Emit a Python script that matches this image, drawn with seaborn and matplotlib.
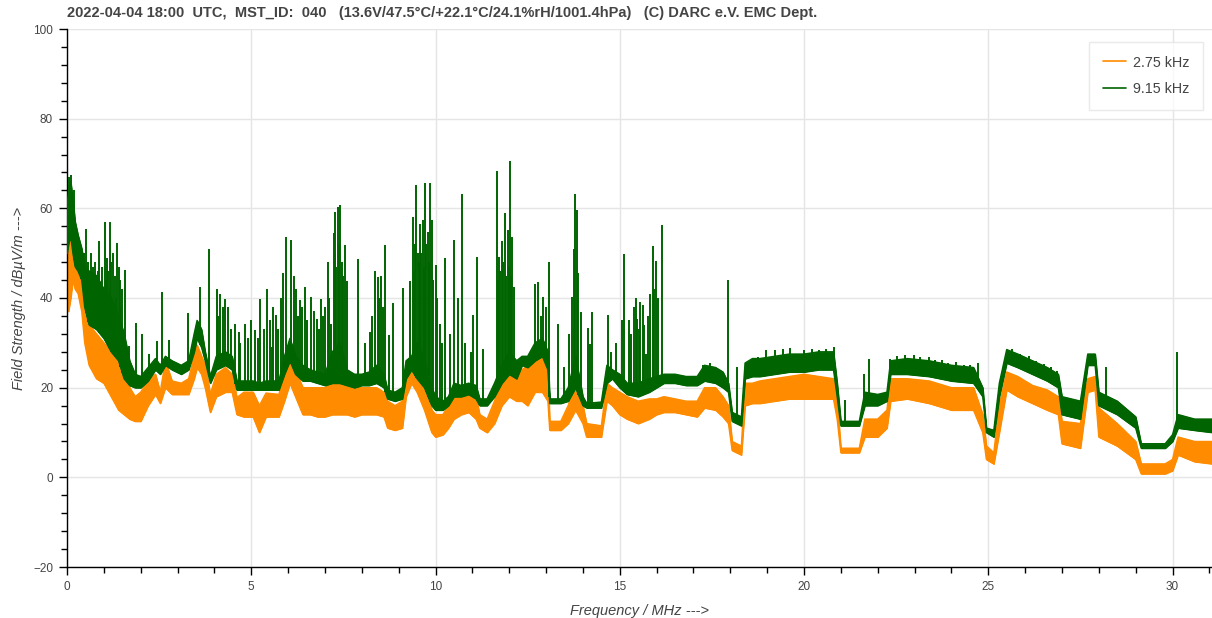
import numpy as np
import pandas as pd
import seaborn as sns
import matplotlib
matplotlib.use("Agg")
import matplotlib.pyplot as plt
from matplotlib.ticker import MultipleLocator

# ---------------- data ----------------
TITLE = ("2022-04-04 18:00  UTC,  MST_ID:  040   (13.6V/47.5\u00b0C/+22.1\u00b0C/24.1%rH/1001.4hPa)"
         "   (C) DARC e.V. EMC Dept.")
SERIES_NAMES = ["2.75 kHz", "9.15 kHz"]
X_LABEL = "Frequency / MHz --->"
Y_LABEL = "Field Strength / dB\u00b5V/m --->"

FREQ = [0.00, 0.04, 0.10, 0.16, 0.22, 0.30, 0.40, 0.48, 0.60, 0.80,
        1.00, 1.20, 1.40, 1.55, 1.70, 1.85, 2.00, 2.20, 2.40, 2.53,
        2.67, 2.85, 3.10, 3.30, 3.45, 3.53, 3.65, 3.75, 3.89, 4.05,
        4.30, 4.48, 4.61, 4.80, 5.05, 5.22, 5.40, 5.75, 5.90, 6.05,
        6.20, 6.40, 6.60, 6.80, 7.00, 7.20, 7.40, 7.60, 7.80, 8.00,
        8.20, 8.40, 8.60, 8.70, 8.90, 9.10, 9.20, 9.35, 9.50, 9.70,
        9.90, 10.00, 10.20, 10.35, 10.50, 10.70, 10.90, 11.10, 11.20, 11.40,
        11.60, 11.80, 12.00, 12.20, 12.35, 12.50, 12.70, 12.90, 13.05, 13.10,
        13.40, 13.60, 13.80, 14.00, 14.10, 14.50, 14.65, 14.80, 15.00, 15.20,
        15.50, 15.80, 16.00, 16.20, 16.50, 16.80, 17.10, 17.30, 17.60, 17.80,
        17.95, 18.05, 18.30, 18.40, 18.60, 18.80, 19.20, 19.60, 20.00, 20.40,
        20.80, 20.90, 21.00, 21.50, 21.65, 22.00, 22.25, 22.35, 22.80, 23.40,
        24.00, 24.60, 24.85, 24.95, 25.15, 25.30, 25.50, 25.80, 26.20, 26.60,
        26.90, 27.00, 27.50, 27.70, 27.90, 28.00, 28.50, 29.00, 29.15, 29.80,
        30.00, 30.15, 30.60, 31.10]

# 9.15 kHz (green) noise band
G_LO = [50, 52, 54, 50, 47, 46, 44, 38, 34, 33,
        31, 28, 26, 22, 20.5, 20, 20, 21.5, 24, 23,
        25, 24, 23, 24, 28, 31, 29, 26, 21, 24,
        25, 24, 19.5, 19.5, 19.5, 19.5, 19.5, 19.5, 23, 26,
        23, 21.5, 21.5, 21, 20.5, 21, 21, 20.5, 20, 20.5,
        20.5, 21, 20, 17.5, 17, 17.5, 22, 24, 22, 20,
        16, 15, 15, 16, 18, 18, 18.5, 17.5, 16, 16,
        18, 21, 23, 22, 25, 24.5, 26, 27, 24, 16.5,
        16.5, 17, 20, 16, 15.5, 15.5, 21, 22, 20, 18.5,
        18, 19, 20, 21, 21, 20.5, 20.5, 21.5, 21, 20,
        19, 12.5, 11.5, 22, 22.5, 22.5, 23, 23.5, 23.5, 24,
        24, 18, 11.5, 11.5, 16, 16, 17, 23, 23, 22.5,
        21.5, 21, 18, 10, 9, 18, 25.5, 24.5, 23, 21.5,
        20, 14, 13, 25, 25, 16, 14, 11, 6.5, 6.5,
        8, 11, 10.5, 10]
G_HI = [60, 64, 66, 62, 57, 54, 51, 47, 46, 45,
        42, 40, 36, 32, 26, 23, 22.5, 24.5, 26.5, 25,
        27, 26, 25, 26, 32, 35, 33, 28, 22.5, 27,
        28, 27, 21.5, 21.5, 21.5, 21, 21.5, 21.5, 27, 31,
        27, 25, 24, 23.5, 23, 28, 30, 24, 23, 23,
        23.5, 25, 23, 19.5, 19, 20, 26, 27, 30, 26,
        20, 18, 17, 18, 21, 20.5, 21, 20.5, 17.5, 17.5,
        21, 25, 28, 26, 27, 27, 30, 31, 28, 17.5,
        17.5, 20, 27, 18, 16.5, 16.8, 25, 24, 23, 21,
        21, 22, 22.5, 23, 23, 22.5, 22.5, 25, 24.5, 23.5,
        21, 14.5, 13.5, 25.5, 26.5, 26.5, 27, 27.5, 27.5, 28,
        28, 21, 12.5, 12.5, 19, 18.5, 19, 26, 26.5, 26,
        25, 24.5, 20, 11, 10.5, 21, 28.5, 27.5, 26, 24.5,
        23, 18, 17, 27.5, 27.5, 19, 17, 13.5, 7.5, 7.5,
        9.5, 14, 13, 13]

# 2.75 kHz (orange) noise band
O_LO = [38, 37, 40, 44, 42, 41, 37, 30, 25, 22,
        21, 18, 15, 14, 13, 12.5, 12.5, 16, 18.5, 16.5,
        20, 18.5, 18.5, 18.5, 22, 24.5, 23, 20, 14.5, 18,
        19, 19, 14, 13.5, 13.5, 10, 13.5, 13.5, 17, 21,
        18, 14, 14, 13.5, 13.5, 14, 14, 14, 13.5, 14,
        14, 14, 13.5, 11, 10.5, 11, 18, 21, 19, 15,
        10, 9, 9.5, 11, 13, 14, 14.5, 13, 11, 10,
        12, 16, 18, 17, 17, 16, 19, 19, 17, 10.5,
        10.5, 12, 15, 12, 9, 9, 17, 16, 14, 13,
        12, 13, 14, 14.5, 14.5, 14, 13.5, 15.5, 15, 13.5,
        12, 6, 5, 16, 16.5, 16.5, 17, 17.5, 17.5, 17.5,
        17.5, 13, 5.5, 5.5, 9, 9, 11, 17, 17.5, 16.5,
        15, 15, 10, 4, 3, 10, 19.5, 18, 16.5, 15,
        14, 7.5, 6.5, 19, 19.5, 9, 7, 4, 0.8, 0.8,
        1.5, 5, 3.5, 3]
O_HI = [46, 50, 53, 52, 50, 48, 45, 40, 34, 32,
        30, 28, 26, 24, 20, 18, 19, 21.5, 23, 19,
        26, 21.5, 21, 22, 27, 29.5, 27, 25, 18.5, 23,
        24.5, 23, 17.8, 19, 19, 16, 18.8, 18.5, 23, 29.5,
        24, 20, 20, 20, 20, 21, 22, 21, 20, 20,
        20, 20, 19, 17, 16, 17, 24, 25, 28, 22,
        15, 14, 14, 16, 19, 19.5, 20, 18, 14, 13,
        17, 22, 25, 22, 24, 25, 28, 27, 23, 12.5,
        12.5, 16, 21, 16, 12, 11.5, 21, 20, 19, 18,
        17, 17.5, 17.5, 18, 17.5, 17, 17, 20, 20, 18,
        16, 8, 7, 21, 21, 21.5, 22, 22.5, 23, 22.5,
        22, 17, 6.5, 6.5, 13, 13, 15, 22, 22, 21.5,
        20, 20, 14, 7, 5.5, 16, 23.5, 22.5, 20.5, 19.5,
        18, 12.5, 12, 22, 22.5, 15.5, 12, 8, 3, 3,
        4, 9, 8, 8]

# strong carriers / peaks of the 9.15 kHz trace
SPIKE_F = [0.05, 0.12, 0.19, 0.30, 0.39, 0.45, 0.52, 0.58, 0.65, 0.70,
           0.76, 0.83, 0.88, 0.95, 1.02, 1.08, 1.12, 1.16, 1.20, 1.25,
           1.30, 1.36, 1.40, 1.45, 1.50, 1.57, 1.67, 1.87, 2.04, 2.23,
           2.45, 2.58, 2.78, 3.28, 3.62, 3.84, 4.07, 4.16, 4.30, 4.37,
           4.57, 4.66, 4.82, 5.11, 5.25, 5.43, 5.55, 5.67, 5.85, 5.94,
           6.09, 6.21, 6.31, 6.45, 6.63, 6.78, 6.90, 7.01, 7.08, 7.17,
           7.24, 7.26, 7.28, 7.31, 7.35, 7.38, 7.42, 7.45, 7.48, 7.55,
           7.60, 7.90, 8.23, 8.35, 8.44, 8.53, 8.64, 8.73, 8.84, 9.12,
           9.32, 9.38, 9.42, 9.45, 9.48, 9.52, 9.55, 9.57, 9.60, 9.65,
           9.68, 9.71, 9.75, 9.80, 9.83, 9.86, 9.90, 9.93, 10.00, 10.13,
           10.25, 10.50, 10.72, 11.03, 11.13, 11.29, 11.67, 11.70, 11.73, 11.76,
           11.80, 11.84, 11.88, 11.92, 11.96, 11.99, 12.03, 12.05, 12.07, 12.12,
           12.71, 12.77, 12.92, 13.09, 13.32, 13.50, 13.62, 13.70, 13.75, 13.79,
           13.84, 13.88, 13.94, 14.13, 14.20, 14.25, 14.68, 15.12, 15.25, 15.39,
           15.47, 15.56, 15.62, 15.72, 15.83, 15.90, 15.98, 16.14, 17.27, 17.46,
           17.93, 18.18, 21.10, 21.62, 21.76, 28.20, 30.13]
SPIKE_V = [67, 67.5, 64, 51.8, 48.8, 50, 55.4, 48, 50, 47,
           48, 46, 52.7, 47, 56.9, 49, 46, 56.9, 48, 50,
           45, 52.3, 47, 44, 42, 46.2, 29.3, 34.5, 32, 27.5,
           30.3, 41.3, 30.7, 36.6, 42.5, 51.0, 42.1, 41, 39.8, 38,
           34.3, 32.4, 34.3, 32.8, 39.8, 42.1, 29, 36.1, 45.5, 53.5,
           53, 42.1, 39.5, 42.5, 40.2, 35.4, 39.8, 38, 48, 34.3,
           54.4, 59.2, 50, 47, 60.3, 52, 60.7, 48, 45, 51.8,
           43.9, 48.8, 32.4, 46, 44.7, 44.8, 51.9, 31.7, 38.9, 42.2,
           43.9, 58.1, 46, 52, 65.2, 50, 48, 56.6, 50, 57.4,
           47, 65.6, 52, 54.7, 48, 65.6, 57.4, 44, 47.3, 34.3,
           49, 53, 63.1, 36.1, 49.2, 28.6, 68.4, 44, 49.2, 46,
           52.8, 48, 58.9, 45, 55.1, 47, 70.6, 45, 53.6, 42.5,
           43.2, 43.6, 40.2, 48, 34.2, 24.6, 32, 40.2, 51, 63.3,
           59.7, 45.6, 36.8, 33.3, 29.8, 36.8, 36.2, 49.8, 35, 38,
           35.4, 39, 38.4, 27.6, 40.8, 51.6, 48.2, 56.2, 25, 25.4,
           44, 24.6, 17.2, 23.1, 26.5, 24.6, 28]

# weaker carriers of the 9.15 kHz trace
SMALL_F = [0.55, 0.62, 0.73, 0.80, 0.92, 0.98, 1.05, 1.18, 1.33, 1.43,
           4.10, 4.22, 4.45, 4.70, 4.90, 5.00, 5.18, 5.35, 5.50, 5.60,
           5.72, 5.80, 6.15, 6.26, 6.37, 6.52, 6.70, 6.85, 6.95, 7.12,
           8.10, 8.28, 8.48, 8.58, 10.05, 10.18, 10.40, 10.60, 10.80, 10.95,
           12.85, 13.00, 14.75, 14.90, 15.05, 15.30, 15.43, 15.51, 15.67, 15.76,
           15.94, 16.05]
SMALL_V = [44, 42, 45, 41, 43, 40, 44, 42, 40, 38,
           36, 38, 33, 30, 31, 35, 31, 33, 35, 38,
           33, 40, 45, 36, 38, 35, 37, 33, 36, 40,
           30, 36, 40, 38, 40, 30, 32, 40, 30, 28,
           36, 38, 28, 30, 35, 32, 40, 33, 34, 36,
           42, 40]

# comb peaks riding on the 9.15 kHz noise floor
COMB_F = [18.75, 18.97, 19.22, 19.43, 19.61, 19.83, 20.01, 20.22, 20.40, 20.60,
          20.81, 22.34, 22.52, 22.75, 22.98, 23.16, 23.38, 23.55, 23.74, 23.92,
          24.12, 24.33, 24.51, 24.72, 25.64, 25.87, 26.10, 26.30, 26.50, 26.71,
          26.86]
COMB_V = [26.9, 28.3, 28.3, 28.7, 28.9, 27.6, 28.3, 28.7, 28.3, 28.7,
          29.1, 26.4, 27.1, 27.2, 27.2, 26.8, 26.8, 26.1, 26.1, 25.4,
          25.7, 25.0, 25.0, 25.4, 28.6, 27.6, 27.0, 25.9, 25.2, 24.5,
          23.7]

ORANGE = "#ff8c00"
GREEN = "#006400"
TEXT = "#444444"
GRID = "#e5e5e5"

# ---------------- figure ----------------
sns.set_theme(style="white")
plt.rcParams["font.family"] = ["Liberation Sans", "DejaVu Sans"]

W, H = 1212, 618
fig = plt.figure(figsize=(W / 100, H / 100), dpi=100)
L, R, T, B = 67, 1212, 29, 567
ax = fig.add_axes([L / W, 1 - B / H, (R - L) / W, (B - T) / H])

df = pd.DataFrame({"freq": FREQ, "g_lo": G_LO, "g_hi": G_HI,
                   "o_lo": O_LO, "o_hi": O_HI})

# orange (2.75 kHz)
ax.fill_between(df["freq"], df["o_lo"], df["o_hi"], color=ORANGE, lw=0.8, zorder=2)
sns.lineplot(data=df, x="freq", y="o_hi", ax=ax, color=ORANGE, lw=1.0,
             label=SERIES_NAMES[0], estimator=None, sort=False, zorder=2)
sns.lineplot(data=df, x="freq", y="o_lo", ax=ax, color=ORANGE, lw=1.0,
             estimator=None, sort=False, zorder=2)

# green (9.15 kHz)
ax.fill_between(df["freq"], df["g_lo"], df["g_hi"], color=GREEN, lw=0.8, zorder=3)
spk = pd.DataFrame({"f": SPIKE_F + SMALL_F + COMB_F,
                    "v": SPIKE_V + SMALL_V + COMB_V})
spk_base = np.interp(spk["f"], df["freq"], df["g_lo"])
ax.vlines(spk["f"], spk_base, spk["v"], color=GREEN, lw=1.4, zorder=3)
sns.lineplot(data=df, x="freq", y="g_hi", ax=ax, color=GREEN, lw=1.0,
             label=SERIES_NAMES[1], estimator=None, sort=False, zorder=3)
sns.lineplot(data=df, x="freq", y="g_lo", ax=ax, color=GREEN, lw=1.0,
             estimator=None, sort=False, zorder=3)

# axes styling (bokeh-like)
ax.set_xlim(0, (R - L) / 36.85)
ax.set_ylim(-20, 100)
ax.set_xticks([0, 5, 10, 15, 20, 25, 30])
ax.set_yticks([-20, 0, 20, 40, 60, 80, 100])
ax.xaxis.set_minor_locator(MultipleLocator(1))
ax.yaxis.set_minor_locator(MultipleLocator(4))
ax.grid(True, which="major", color=GRID, lw=1.0, zorder=0)
ax.set_axisbelow(True)
for s in ["top", "right"]:
    ax.spines[s].set_visible(False)
for s in ["left", "bottom"]:
    ax.spines[s].set_color("black")
    ax.spines[s].set_linewidth(1.0)
ax.tick_params(which="major", direction="out", length=6, width=1, color="black",
               labelcolor=TEXT, labelsize=8.5, pad=4)
ax.tick_params(which="minor", direction="out", length=4, width=1, color="black")
ax.tick_params(axis="x", which="both", bottom=True)
ax.tick_params(axis="y", which="both", left=True)

ax.set_xlabel(X_LABEL, fontsize=10.5, style="italic", color=TEXT, labelpad=8)
ax.set_ylabel(Y_LABEL, fontsize=10.5, style="italic", color=TEXT, labelpad=5)

fig.text(L / W, 1 - 13 / H, TITLE, ha="left", va="center", fontsize=10.5,
         fontweight="bold", color=TEXT)

leg = ax.legend(loc="upper right", bbox_to_anchor=(0.992, 0.976), borderaxespad=0,
                frameon=True, fancybox=False, fontsize=10.3, handlelength=1.6,
                handletextpad=0.5, borderpad=0.95, labelspacing=0.9)
leg.get_frame().set_edgecolor(GRID)
leg.get_frame().set_linewidth(1.0)
for t in leg.get_texts():
    t.set_color(TEXT)
for h in leg.get_lines():
    h.set_linewidth(1.2)

fig.savefig("out.png", dpi=100)
